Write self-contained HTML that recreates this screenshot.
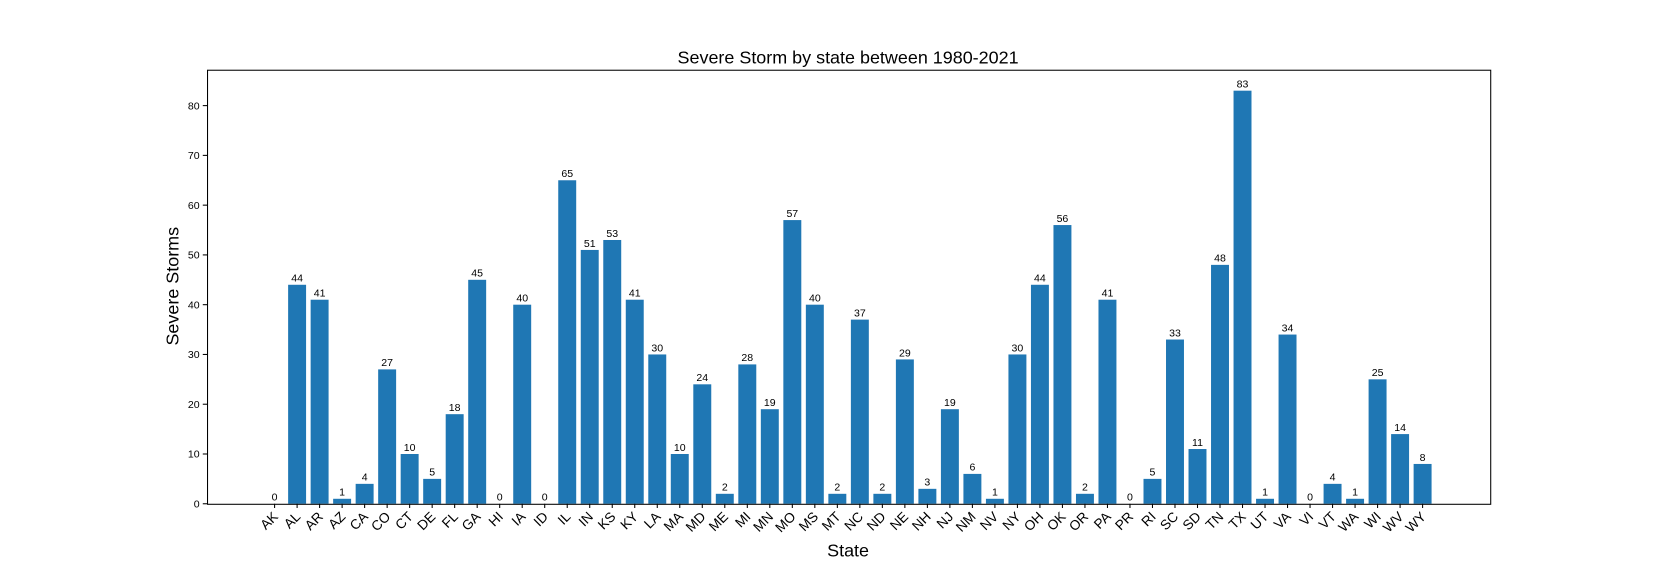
<!DOCTYPE html>
<html><head><meta charset="utf-8"><style>
body{margin:0;background:#fff;}
svg{font-family:"Liberation Sans","DejaVu Sans",sans-serif;display:block;}
</style></head><body>
<svg id="chart" width="1656" height="576" viewBox="0 0 1568 545.4" preserveAspectRatio="none" xmlns="http://www.w3.org/2000/svg">
<rect width="1568" height="546" fill="#fff"/>
<text x="803" y="60" font-size="17" text-anchor="middle">Severe Storm by state between 1980-2021</text>
<text x="803" y="527" font-size="17" text-anchor="middle">State</text>
<text x="169" y="271" font-size="17" text-anchor="middle" transform="rotate(-90 169 271)">Severe Storms</text>
<g id="bars"></g><g id="yticks"></g><g id="xticks"></g>
<rect x="196.5" y="66.5" width="1215" height="411" fill="none" stroke="#000" stroke-width="1"/>
</svg>
<script>
const states=["AK","AL","AR","AZ","CA","CO","CT","DE","FL","GA","HI","IA","ID","IL","IN","KS","KY","LA","MA","MD","ME","MI","MN","MO","MS","MT","NC","ND","NE","NH","NJ","NM","NV","NY","OH","OK","OR","PA","PR","RI","SC","SD","TN","TX","UT","VA","VI","VT","WA","WI","WV","WY"];
const storms=[0,44,41,1,4,27,10,5,18,45,0,40,0,65,51,53,41,30,10,24,2,28,19,57,40,2,37,2,29,3,19,6,1,30,44,56,2,41,0,5,33,11,48,83,1,34,0,4,1,25,14,8];
const yTicks=[0,10,20,30,40,50,60,70,80];
const NS="http://www.w3.org/2000/svg";
function xs(i){return 260+i*(1347-260)/51;}
function ys(v){return 477-v*(377/80);}
function mk(tag,attrs,parent){const e=document.createElementNS(NS,tag);for(const k in attrs)e.setAttribute(k,attrs[k]);parent.appendChild(e);return e;}
const gb=document.getElementById('bars'),gy=document.getElementById('yticks'),gx=document.getElementById('xticks');
const bw=17;
states.forEach((s,i)=>{
  const v=storms[i],x=xs(i);
  const r=mk('rect',{x:x-bw/2,y:ys(v),width:bw,height:477-ys(v),fill:'#1f77b4'},gb);
  
  
  const t=mk('text',{x:x,y:ys(v)-3,'font-size':10,'text-anchor':'middle'},gb);
  t.textContent=v;
  
  
  mk('line',{x1:x,x2:x,y1:477,y2:481,stroke:'#000'},gx);
  const l=mk('text',{x:x+4,y:490,'font-size':13,'text-anchor':'end',transform:`rotate(-45 ${x+4} 490)`},gx);
  l.textContent=s;
  
  
});
yTicks.forEach(v=>{
  const y=ys(v);
  mk('line',{x1:192,x2:196,y1:y,y2:y,stroke:'#000'},gy);
  const t=mk('text',{x:189,y:y+3.5,'font-size':10,'text-anchor':'end'},gy);
  t.textContent=v;
  
  
});
</script>
</body></html>
